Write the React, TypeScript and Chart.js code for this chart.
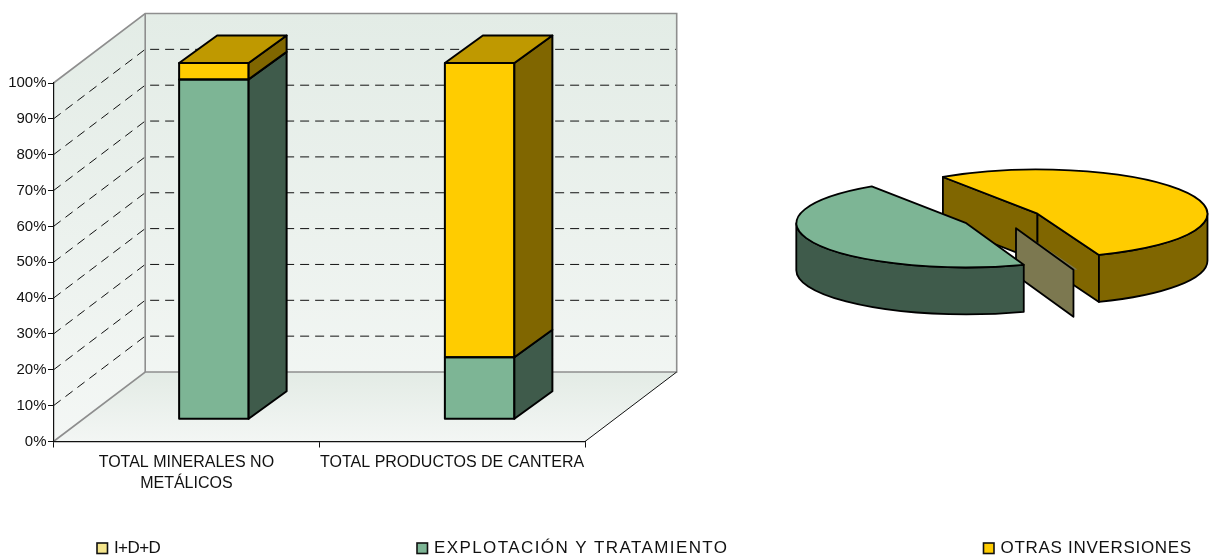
import React, { useEffect, useRef } from "react";
import { Chart, registerables } from "chart.js";

Chart.register(...registerables);

const FONT = "'Liberation Sans', Arial, sans-serif";
const categories = [["TOTAL MINERALES NO", "METÁLICOS"], "TOTAL PRODUCTOS DE CANTERA"];
const seriesNames = ["I+D+D", "EXPLOTACIÓN Y TRATAMIENTO", "OTRAS INVERSIONES"];
const idd = [0, 0];
const explotacion = [95.4, 17.4];
const otras = [4.6, 82.6];
const pieValues = [0.4, 46.1, 53.5];
const yTicks = [0, 100, 10];
const frontColors = ["#F4E58C", "#7DB595", "#FFCC00"];
const sideColors = ["#7C7850", "#3F5B4B", "#806600"];
const topColors = ["#B8AC69", "#5E8870", "#BF9900"];
const pieTopColors = ["#7C7850", "#7DB595", "#FFCC00"];
const legendX = [97, 417, 983.5];
const legendSpacing = ["-0.6px", "1.4px", "0.7px"];

const wallDepth = { x: 91.7, y: 69.5 };
const barDepth = { x: 38, y: 27.7 };
const barPlane = { dx: 27.5, scale: 0.9939, f: -19.49 };

const wallPlugin = {
  id: "walls",
  beforeDraw(chart: any) {
    const { ctx, chartArea: a } = chart;
    const L = a.left, R = a.right, T = a.top, B = a.bottom;
    const dx = wallDepth.x, dy = wallDepth.y;
    const poly = (pts: number[][]) => {
      ctx.beginPath();
      pts.forEach((p, i) => (i ? ctx.lineTo(p[0], p[1]) : ctx.moveTo(p[0], p[1])));
    };
    ctx.save();
    const wall = ctx.createLinearGradient(0, T - dy, 0, B);
    wall.addColorStop(0, "#E3ECE6");
    wall.addColorStop(1, "#F4F7F5");
    ctx.fillStyle = wall;
    poly([[L, T], [L + dx, T - dy], [L + dx, B - dy], [L, B]]);
    ctx.closePath();
    ctx.fill();
    ctx.fillRect(L + dx, T - dy, R - L, B - T);
    const floor = ctx.createLinearGradient(0, B - dy, 0, B);
    floor.addColorStop(0, "#E3EBE5");
    floor.addColorStop(1, "#F3F6F4");
    ctx.fillStyle = floor;
    poly([[L, B], [L + dx, B - dy], [R + dx, B - dy], [R, B]]);
    ctx.closePath();
    ctx.fill();

    const yScale = chart.scales.y;
    ctx.strokeStyle = "#111";
    ctx.lineWidth = 1;
    ctx.setLineDash([9, 6]);
    yScale.ticks.forEach((t: any) => {
      if (t.value === yTicks[0] || t.value === yTicks[1]) return;
      const y = yScale.getPixelForValue(t.value);
      poly([[L, y], [L + dx, y - dy], [R + dx, y - dy]]);
      ctx.stroke();
    });
    ctx.setLineDash([]);

    ctx.strokeStyle = "#8E8E8E";
    ctx.lineWidth = 1.6;
    poly([[L, T], [L + dx, T - dy], [R + dx, T - dy], [R + dx, B - dy], [L + dx, B - dy], [L, B]]);
    ctx.stroke();
    poly([[L + dx, T - dy], [L + dx, B - dy]]);
    ctx.stroke();
    ctx.strokeStyle = "#111";
    ctx.lineWidth = 1;
    poly([[R, B], [R + dx, B - dy]]);
    ctx.stroke();
    ctx.restore();
  },
  beforeDatasetsDraw(chart: any) {
    const { ctx } = chart;
    ctx.save();
    ctx.transform(1, 0, 0, barPlane.scale, barPlane.dx, barPlane.f);
  },
  afterDatasetsDraw(chart: any) {
    const { ctx } = chart;
    const n = chart.data.datasets.length;
    ctx.lineWidth = 2;
    ctx.strokeStyle = "#000";
    ctx.lineJoin = "round";
    for (let d = 0; d < n; d++) {
      chart.getDatasetMeta(d).data.forEach((bar: any) => {
        const { x, y, base, width } = bar.getProps(["x", "y", "base", "width"], true);
        const x1 = x + width / 2;
        const x0 = x - width / 2;
        const top = Math.min(y, base);
        const bot = Math.max(y, base);
        if (bot - top < 0.5) return;
        const ox = barDepth.x, oy = barDepth.y;
        ctx.strokeRect(x0, top, x1 - x0, bot - top);
        ctx.fillStyle = sideColors[d];
        ctx.beginPath();
        ctx.moveTo(x1, top);
        ctx.lineTo(x1 + ox, top - oy);
        ctx.lineTo(x1 + ox, bot - oy);
        ctx.lineTo(x1, bot);
        ctx.closePath();
        ctx.fill();
        ctx.stroke();
        if (d === n - 1) {
          ctx.fillStyle = topColors[d];
          ctx.beginPath();
          ctx.moveTo(x0, top);
          ctx.lineTo(x0 + ox, top - oy);
          ctx.lineTo(x1 + ox, top - oy);
          ctx.lineTo(x1, top);
          ctx.closePath();
          ctx.fill();
          ctx.stroke();
        }
      });
    }
    ctx.restore();
  },
  afterDraw(chart: any) {
    const { ctx } = chart;
    ctx.save();
    ctx.font = "17px " + FONT;
    ctx.textBaseline = "middle";
    seriesNames.forEach((name, i) => {
      const x = legendX[i];
      ctx.fillStyle = frontColors[i];
      ctx.strokeStyle = "#111";
      ctx.lineWidth = 1.6;
      ctx.fillRect(x, 543, 10.5, 10.5);
      ctx.strokeRect(x, 543, 10.5, 10.5);
      ctx.fillStyle = "#111";
      (ctx as any).letterSpacing = legendSpacing[i];
      ctx.fillText(name, x + 17, 548.5);
    });
    ctx.restore();
  },
};

const FLAT = 0.26;
const DEPTH = 47;
const EXPLODE = 40;
const pieOrder = [2, 0, 1];

const piePlugin = {
  id: "pie3d",
  beforeDatasetsDraw(chart: any) {
    const { ctx } = chart;
    const arcs = chart.getDatasetMeta(0).data;
    pieOrder.forEach((i) => {
      const arc = arcs[i];
      const R = arc.outerRadius;
      const a0 = arc.startAngle, a1 = arc.endAngle;
      const mid = (a0 + a1) / 2;
      const cx = arc.x + Math.cos(mid) * EXPLODE;
      const cy = arc.y + Math.sin(mid) * EXPLODE * FLAT;
      const rim = (a: number) => [cx + R * Math.cos(a), cy + FLAT * R * Math.sin(a)];
      const drawTop = () => {
        ctx.save();
        ctx.translate(cx, cy);
        ctx.scale(1, FLAT);
        ctx.translate(-arc.x, -arc.y);
        arc.draw(ctx);
        ctx.restore();
      };
      ctx.save();
      ctx.lineJoin = "round";
      ctx.strokeStyle = "#000";
      ctx.lineWidth = 1.8;
      ctx.fillStyle = sideColors[i];
      const cut = (a: number) => {
        const p = rim(a);
        ctx.beginPath();
        ctx.moveTo(cx, cy);
        ctx.lineTo(p[0], p[1]);
        ctx.lineTo(p[0], p[1] + DEPTH);
        ctx.lineTo(cx, cy + DEPTH);
        ctx.closePath();
        ctx.fill();
        ctx.stroke();
      };
      if (i === 0) drawTop();
      if (Math.cos(a0) < 0) cut(a0);
      if (Math.cos(a1) > 0) cut(a1);
      const TAU = Math.PI * 2;
      for (let n = -1; n <= 2; n++) {
        const s = Math.max(a0, n * TAU);
        const e = Math.min(a1, n * TAU + Math.PI);
        if (e - s <= 0.001 || i === 0) continue;
        ctx.beginPath();
        ctx.ellipse(cx, cy, R, FLAT * R, 0, s, e, false);
        ctx.ellipse(cx, cy + DEPTH, R, FLAT * R, 0, e, s, true);
        ctx.closePath();
        ctx.fill();
        ctx.stroke();
      }
      if (i !== 0) {
        drawTop();
        ctx.beginPath();
        ctx.moveTo(cx, cy);
        ctx.ellipse(cx, cy, R, FLAT * R, 0, a0, a1, false);
        ctx.closePath();
        ctx.stroke();
      }
      ctx.restore();
    });
    return false;
  },
};

export default function App() {
  const barRef = useRef<HTMLCanvasElement>(null);
  const pieRef = useRef<HTMLCanvasElement>(null);

  useEffect(() => {
    const seriesData = [idd, explotacion, otras];
    const bar = new Chart(barRef.current as HTMLCanvasElement, {
      type: "bar",
      data: {
        labels: categories as any,
        datasets: seriesNames.map((name, i) => ({
          label: name,
          data: seriesData[i],
          backgroundColor: frontColors[i],
          borderWidth: 0,
          categoryPercentage: 1,
          barPercentage: 0.2615,
          clip: false as any,
        })),
      },
      options: {
        responsive: false,
        animation: false,
        events: [],
        layout: { padding: { left: 0, top: 83, right: 627, bottom: 0 } },
        plugins: { legend: { display: false }, tooltip: { enabled: false } },
        scales: {
          x: {
            stacked: true,
            offset: true,
            grid: { offset: true, drawOnChartArea: false, color: "#111", tickLength: 6 },
            border: { color: "#111", width: 1.2 },
            ticks: {
              color: "#111",
              autoSkip: false,
              maxRotation: 0,
              padding: 5,
              font: { family: FONT, size: 16, lineHeight: 1.31 },
            },
            afterFit(s: any) {
              s.height = 114.5;
              s.paddingLeft = 0;
              s.paddingRight = 0;
            },
          },
          y: {
            stacked: true,
            min: yTicks[0],
            max: yTicks[1],
            grid: { drawOnChartArea: false, color: "#111", tickLength: 5.5 },
            border: { color: "#111", width: 1.2 },
            ticks: {
              stepSize: yTicks[2],
              color: "#111",
              padding: 1.5,
              font: { family: FONT, size: 15 },
              callback: (v: any) => v + "%",
            },
            afterFit(s: any) {
              s.width = 53.5;
              s.paddingTop = 0;
              s.paddingBottom = 0;
            },
          },
        },
      },
      plugins: [wallPlugin],
    } as any);

    const pie = new Chart(pieRef.current as HTMLCanvasElement, {
      type: "pie",
      data: {
        labels: seriesNames,
        datasets: [
          {
            data: pieValues,
            backgroundColor: pieTopColors,
            borderWidth: 0,
          } as any,
        ],
      },
      options: {
        responsive: false,
        animation: false,
        events: [],
        rotation: 158.8,
        radius: 170,
        layout: { padding: { left: 20, bottom: 63 } },
        plugins: { legend: { display: false }, tooltip: { enabled: false } },
      } as any,
      plugins: [piePlugin],
    } as any);

    return () => {
      bar.destroy();
      pie.destroy();
    };
  }, []);

  return (
    <div style={{ position: "fixed", left: 0, top: 0, width: 1212, height: 556, overflow: "hidden", background: "#fff" }}>
      <canvas ref={barRef} width={1212} height={556} style={{ position: "absolute", left: 0, top: 0 }} />
      <canvas ref={pieRef} width={440} height={300} style={{ position: "absolute", left: 772, top: 100 }} />
    </div>
  );
}
